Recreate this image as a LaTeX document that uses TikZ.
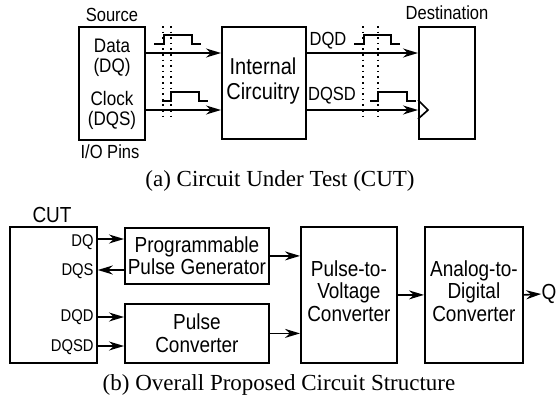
\documentclass[tikz,border=0pt]{standalone}
\usepackage{fontspec}
\setmainfont{Liberation Serif}
\newfontfamily\blocksans{Liberation Sans}[FakeStretch=0.87]
\usetikzlibrary{arrows.meta, positioning, calc}
\tikzset{
  blockbox/.style={draw, line width=0.9pt, inner sep=0pt, anchor=north west},
  bigtext/.style={font=\blocksans\fontsize{11.5}{12.5}\selectfont, align=center, inner sep=0pt},
  blocktext/.style={font=\blocksans\fontsize{10.9}{11.3}\selectfont, align=center, inner sep=0pt},
  labeltext/.style={font=\blocksans\fontsize{9.5}{10}\selectfont, align=center, inner sep=0pt},
  pintext/.style={font=\blocksans\fontsize{8.5}{9}\selectfont, inner sep=0pt, anchor=east},
  captext/.style={font=\fontsize{11.5}{13}\selectfont, inner sep=0pt},
  sigarrow/.style={-{Stealth[length=7.5pt, width=4.5pt]}, line width=0.85pt},
  wave/.style={line width=0.7pt},
  strobe/.style={dotted, line width=0.8pt}
}
\begin{document}
\begin{tikzpicture}[x=0.5pt, y=-0.5pt]
\useasboundingbox (0,0) rectangle (558,402);

% (a) circuit under test
\node[blockbox, minimum width=33pt, minimum height=56.5pt] (src) at (78,26) {};
\node[blockbox, minimum width=42pt, minimum height=56pt] (ic) at (221,26) {};
\node[blockbox, minimum width=28pt, minimum height=56pt] (dst) at (418,26) {};
\node[labeltext] (srclbl) at (112,15) {Source};
\node[labeltext] (dstlbl) at (447,13) {Destination};
\node[labeltext] (pinlbl) at (110,152) {I/O Pins};
\node[labeltext, font=\blocksans\fontsize{9.8}{10}\selectfont] (datalbl) at (112,58) {Data\\(DQ)};
\node[labeltext, font=\blocksans\fontsize{9.8}{10}\selectfont] (clklbl) at (112,110) {Clock\\(DQS)};
\node[bigtext] (iclbl) at (263,81) {Internal\\Circuitry};
\node[labeltext] (dqdlbl) at (328,41) {DQD};
\node[labeltext] (dqsdlbl) at (332,96) {DQSD};

\draw[sigarrow] (src.east |- 0,53) -- (ic.west |- 0,53);
\draw[sigarrow] (src.east |- 0,110) -- (ic.west |- 0,110);
\draw[sigarrow] (ic.east |- 0,53) -- (dst.west |- 0,53);
\draw[sigarrow] (ic.east |- 0,110) -- (dst.west |- 0,110);
\draw[line width=0.85pt] (dst.west |- 0,100) -- (428,110) -- (dst.west |- 0,119);

% pulses and strobe marks
\draw[wave] (154,44) -- (164,44) -- (164,35) -- (192,35) -- (192,44) -- (201,44);
\draw[wave] (162,101) -- (171,101) -- (171,92) -- (199,92) -- (199,101) -- (208,101);
\draw[wave] (354,44) -- (364,44) -- (364,35) -- (391,35) -- (391,44) -- (400,44);
\draw[wave] (370,101) -- (378,101) -- (378,92) -- (407,92) -- (407,101) -- (416,101);
\foreach \sx in {163,171,363,378}
  \draw[strobe] (\sx,26) -- (\sx,118);

\node[captext] (capa) at (280,181) {(a) Circuit Under Test (CUT)};

% (b) overall structure
\node[blockbox, minimum width=43.5pt, minimum height=68pt] (cut) at (9,226) {};
\node[blockbox, minimum width=72pt, minimum height=28pt] (ppg) at (124,227) {};
\node[blockbox, minimum width=72pt, minimum height=29.5pt] (pc) at (124,303) {};
\node[blockbox, minimum width=48pt, minimum height=68pt] (ptv) at (300,226) {};
\node[blockbox, minimum width=49pt, minimum height=68pt] (adc) at (424,226) {};
\node[blocktext] (cutlbl) at (52,215) {CUT};
\node[blocktext] at (ppg.center) {Programmable\\Pulse Generator};
\node[blocktext] at (pc.center) {Pulse\\Converter};
\node[blocktext] at ($(ptv.center)+(0,-4)$) {Pulse-to-\\Voltage\\Converter};
\node[blocktext] at ($(adc.center)+(0,-4)$) {Analog-to-\\Digital\\Converter};
\node[blocktext] (q) at (549,294) {Q};

\node[pintext] (dqpin) at (94,242) {DQ};
\node[pintext] (dqspin) at (94,271) {DQS};
\node[pintext] (dqdpin) at (94,317) {DQD};
\node[pintext] (dqsdpin) at (94,347) {DQSD};

\draw[sigarrow] (cut.east |- 0,239) -- (ppg.west |- 0,239);
\draw[sigarrow] (ppg.west |- 0,270) -- (cut.east |- 0,270);
\draw[sigarrow] (cut.east |- 0,317) -- (pc.west |- 0,317);
\draw[sigarrow] (cut.east |- 0,346) -- (pc.west |- 0,346);
\draw[sigarrow] (ppg.east) -- (ptv.west |- ppg.east);
\draw[sigarrow] (pc.east) -- (ptv.west |- pc.east);
\draw[sigarrow] (ptv.east) -- (adc.west);
\draw[sigarrow] (adc.east) -- (q.west);

\node[captext] (capb) at (279,385) {(b) Overall Proposed Circuit Structure};
\end{tikzpicture}
\end{document}
